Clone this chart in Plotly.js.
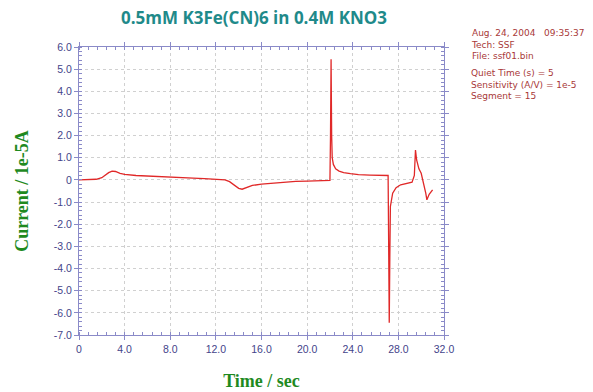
<!DOCTYPE html>
<html>
<head>
<meta charset="utf-8">
<script src="https://cdn.plot.ly/plotly-3.0.1.min.js"></script>
<style>html,body{margin:0;padding:0;background:#fff;}#chart{width:593px;height:392px;}</style>
</head>
<body>
<div id="chart"></div>
<script>
const timeSec = [0, 0.5, 1, 1.5, 2, 2.3, 2.6, 2.9, 3.2, 3.6, 4, 5, 6, 7, 8, 9, 10, 11, 12, 12.8, 13.2, 13.6, 14.0, 14.3, 14.7, 15.2, 16, 17, 18, 19, 20, 21, 22.0, 22.05, 22.1, 22.15, 22.2, 22.3, 22.5, 22.8, 23.2, 23.8, 24.5, 25.5, 26.5, 27.1, 27.15, 27.2, 27.25, 27.3, 27.5, 27.8, 28.2, 28.7, 29.2, 29.4, 29.5, 29.6, 29.8, 30.0, 30.2, 30.4, 30.5, 30.7, 31.0];
const current = [0.0, 0.0, 0.01, 0.03, 0.1, 0.22, 0.33, 0.4, 0.38, 0.3, 0.25, 0.2, 0.17, 0.14, 0.12, 0.1, 0.08, 0.06, 0.04, 0.0, -0.08, -0.22, -0.38, -0.42, -0.33, -0.25, -0.19, -0.14, -0.1, -0.07, -0.05, -0.03, -0.02, 2.0, 5.45, 2.0, 1.0, 0.7, 0.5, 0.4, 0.33, 0.28, 0.24, 0.22, 0.2, 0.2, -3.0, -6.45, -3.5, -1.2, -0.6, -0.35, -0.22, -0.15, -0.1, 0.2, 1.35, 0.9, 0.5, 0.3, -0.1, -0.6, -0.9, -0.65, -0.45];
const xTickVals = [0, 4, 8, 12, 16, 20, 24, 28, 32];
const xTickText = ["0", "4.0", "8.0", "12.0", "16.0", "20.0", "24.0", "28.0", "32.0"];
const yTickVals = [6, 5, 4, 3, 2, 1, 0, -1, -2, -3, -4, -5, -6, -7];
const yTickText = ["6.0", "5.0", "4.0", "3.0", "2.0", "1.0", "0", "-1.0", "-2.0", "-3.0", "-4.0", "-5.0", "-6.0", "-7.0"];
const infoBlock1 = ["Aug. 24, 2004   09:35:37", "Tech: SSF", "File: ssf01.bin"];
const infoBlock2 = ["Quiet Time (s) = 5", "Sensitivity (A/V) = 1e-5", "Segment = 15"];

const axisColor = "#8a8ac8";
const tickFont = {family: "Liberation Sans, Arial, sans-serif", size: 10.5, color: "#44448a"};
const infoFont = {family: "DejaVu Sans, sans-serif", size: 9, color: "#a83838"};

const trace = {
  x: timeSec, y: current, type: "scatter", mode: "lines",
  line: {color: "#e02828", width: 1.3}, hoverinfo: "skip"
};

const annotations = [
  {text: infoBlock1.join("<br>").replace(/   /g, "&nbsp;&nbsp;&nbsp;"), xref: "paper", yref: "paper",
   x: (469 - 79) / 365, y: (335 - 44.5) / 288, xanchor: "left", yanchor: "middle",
   align: "left", showarrow: false, font: infoFont},
  {text: infoBlock2.join("<br>"), xref: "paper", yref: "paper",
   x: (469 - 79) / 365, y: (335 - 84.5) / 288, xanchor: "left", yanchor: "middle",
   align: "left", showarrow: false, font: infoFont}
];

const baseX = {
  range: [0, 32], tickvals: xTickVals, ticktext: xTickText,
  showline: true, linecolor: axisColor, linewidth: 1, mirror: "ticks",
  tickcolor: axisColor, ticklen: 4, tickwidth: 1, zeroline: false
};
const baseY = {
  range: [-7, 6], tickvals: yTickVals, ticktext: yTickText,
  showline: true, linecolor: axisColor, linewidth: 1, mirror: "ticks",
  tickcolor: axisColor, ticklen: 4, tickwidth: 1, zeroline: false
};

const layout = {
  width: 593, height: 392,
  margin: {l: 79, r: 149, t: 47, b: 57},
  paper_bgcolor: "#ffffff", plot_bgcolor: "#ffffff",
  showlegend: false,
  title: {
    text: "0.5mM K3Fe(CN)6 in 0.4M KNO3",
    font: {family: "Open Sans, DejaVu Sans, sans-serif", size: 17, color: "#1f8a8a", weight: "bold"},
    x: 254 / 593, xref: "container", xanchor: "center",
    y: 1 - 18 / 392, yref: "container", yanchor: "middle"
  },
  xaxis: Object.assign({}, baseX, {
    ticks: "outside", tickfont: tickFont,
    showgrid: true, gridcolor: "#d0d0d0", griddash: "dot", gridwidth: 1,
    minor: {dtick: 0.8, ticks: "inside", ticklen: 3, tickcolor: axisColor, showgrid: false},
    title: {text: "Time / sec", standoff: 20,
      font: {family: "Liberation Serif, Times New Roman, serif", size: 18, color: "#1f8a1f", weight: "bold"}}
  }),
  yaxis: Object.assign({}, baseY, {
    ticks: "outside", tickfont: tickFont,
    showgrid: true, gridcolor: "#d0d0d0", griddash: "dot", gridwidth: 1,
    minor: {dtick: 0.2, ticks: "inside", ticklen: 3, tickcolor: axisColor, showgrid: false},
    title: {text: "Current / 1e-5A", standoff: 20,
      font: {family: "Liberation Serif, Times New Roman, serif", size: 18, color: "#1f8a1f", weight: "bold"}}
  }),
  xaxis2: Object.assign({}, baseX, {
    overlaying: "x", ticks: "inside", showticklabels: false, showgrid: false, side: "bottom",
    minor: {dtick: 0.8, ticks: "outside", ticklen: 2, tickcolor: axisColor, showgrid: false}
  }),
  yaxis2: Object.assign({}, baseY, {
    overlaying: "y", ticks: "inside", showticklabels: false, showgrid: false, side: "left",
    minor: {dtick: 0.2, ticks: "outside", ticklen: 2, tickcolor: axisColor, showgrid: false}
  }),
  annotations: annotations
};

Plotly.newPlot("chart", [trace], layout, {displayModeBar: false, staticPlot: true});
</script>
</body>
</html>
